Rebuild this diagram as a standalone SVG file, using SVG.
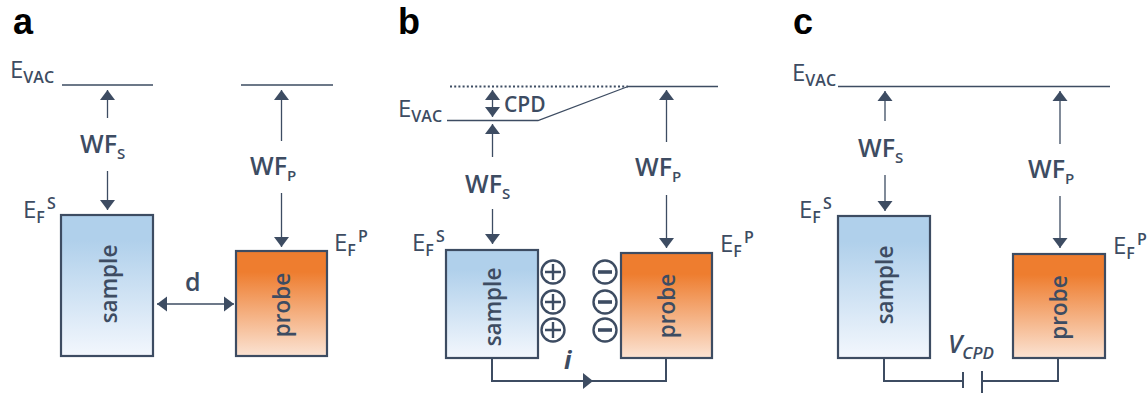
<svg xmlns="http://www.w3.org/2000/svg" width="1148" height="397" viewBox="0 0 1148 397">
<style>
text{font-family:"Open Sans","Noto Sans","DejaVu Sans",sans-serif;fill:#3d4c62}
.h{font-family:"Liberation Sans",Arial,sans-serif;font-size:36px;font-weight:700;fill:#000}
.e{font-size:24px;font-weight:500}
.es{font-size:16px;font-weight:600}
.w{font-size:25px;font-weight:600}
.ws{font-size:15px;font-weight:600}
.n{font-size:22.500px;font-weight:600;text-anchor:middle}
.box{stroke:#3d4c62;stroke-width:2.200}
.l{stroke:#3d4c62;stroke-width:1.300;fill:none}
.a{stroke:#3d4c62;stroke-width:1.300;fill:none;marker-end:url(#ah)}
.w2{stroke:#3d4c62;stroke-width:2;fill:none}
.c{fill:none;stroke:#3d4c62;stroke-width:2.400}
.m{fill:none;stroke:#3d4c62;stroke-width:3.600}
</style>
<defs>
<marker id="ah" markerUnits="userSpaceOnUse" markerWidth="12" markerHeight="16" refX="10" refY="8" orient="auto"><path d="M0 0.500L10 8L0 15.500Z" fill="#3d4c62"/></marker>
<marker id="as" markerUnits="userSpaceOnUse" markerWidth="12" markerHeight="16" refX="0" refY="8" orient="auto"><path d="M10 0.500L0 8L10 15.500Z" fill="#3d4c62"/></marker>
<linearGradient id="gs" x1="0" y1="0" x2="0" y2="1"><stop offset="0.18" stop-color="#b0d0eb"/><stop offset="1" stop-color="#f3f7fd"/></linearGradient>
<linearGradient id="gp" x1="0" y1="0" x2="0" y2="1"><stop offset="0.2" stop-color="#ee7d2f"/><stop offset="1" stop-color="#fbe3d3"/></linearGradient>
</defs>

<g id="panel-labels">
<text class="h" x="13" y="34">a</text>
<text class="h" x="398" y="34">b</text>
<text class="h" x="793" y="34">c</text>
</g>

<g id="a-sample"><rect class="box" x="61" y="215" width="92" height="141" fill="url(#gs)"/><text class="n" transform="translate(116.500 284) rotate(-90)">sample</text></g>
<g id="a-probe"><rect class="box" x="236" y="251" width="91" height="105" fill="url(#gp)"/><text class="n" transform="translate(290 305) rotate(-90)">probe</text></g>
<g id="a-labels">
<text class="e" x="10" y="78">E<tspan class="es" dy="5">VAC</tspan></text>
<text class="w" x="80" y="153">WF<tspan class="ws" dy="6">S</tspan></text>
<text class="w" x="250" y="175">WF<tspan class="ws" dy="6">P</tspan></text>
<text class="e" x="23" y="218">E<tspan class="es" dy="5">F</tspan><tspan class="es" dy="-14" dx="2">S</tspan></text>
<text class="e" x="334" y="251">E<tspan class="es" dy="5">F</tspan><tspan class="es" dy="-14" dx="2">P</tspan></text>
<text class="w" x="185" y="291">d</text>
</g>

<g id="b-sample"><rect class="box" x="446" y="250" width="92" height="108" fill="url(#gs)"/><text class="n" transform="translate(501 307) rotate(-90)">sample</text></g>
<g id="b-probe"><rect class="box" x="621" y="253" width="91" height="105" fill="url(#gp)"/><text class="n" transform="translate(675 306) rotate(-90)">probe</text></g>
<g id="b-charges">
<circle class="c" cx="553" cy="272" r="11.500"/><path class="c" d="M545 272h16M553 264v16"/>
<circle class="c" cx="553" cy="302" r="11.500"/><path class="c" d="M545 302h16M553 294v16"/>
<circle class="c" cx="553" cy="330" r="11.500"/><path class="c" d="M545 330h16M553 322v16"/>
<circle class="c" cx="605" cy="272" r="11.500"/><path class="m" d="M598 272h14"/>
<circle class="c" cx="605" cy="302" r="11.500"/><path class="m" d="M598 302h14"/>
<circle class="c" cx="605" cy="330" r="11.500"/><path class="m" d="M598 330h14"/>
</g>
<g id="b-labels">
<text class="e" x="398" y="117">E<tspan class="es" dy="5">VAC</tspan></text>
<text class="w" x="504" y="112" style="font-size:21px">CPD</text>
<text class="w" x="465" y="193">WF<tspan class="ws" dy="6">S</tspan></text>
<text class="w" x="635" y="176">WF<tspan class="ws" dy="6">P</tspan></text>
<text class="e" x="412" y="251">E<tspan class="es" dy="5">F</tspan><tspan class="es" dy="-14" dx="2">S</tspan></text>
<text class="e" x="720" y="252">E<tspan class="es" dy="5">F</tspan><tspan class="es" dy="-14" dx="2">P</tspan></text>
<text class="w" x="564" y="369" font-style="italic" style="font-weight:700">i</text>
</g>

<g id="c-sample"><rect class="box" x="838" y="216" width="92" height="142" fill="url(#gs)"/><text class="n" transform="translate(893 285) rotate(-90)">sample</text></g>
<g id="c-probe"><rect class="box" x="1013" y="254" width="92" height="104" fill="url(#gp)"/><text class="n" transform="translate(1067 307.500) rotate(-90)">probe</text></g>
<g id="c-labels">
<text class="e" x="792" y="81">E<tspan class="es" dy="5">VAC</tspan></text>
<text class="w" x="858" y="157">WF<tspan class="ws" dy="6">S</tspan></text>
<text class="w" x="1028" y="178">WF<tspan class="ws" dy="6">P</tspan></text>
<text class="e" x="799" y="218">E<tspan class="es" dy="5">F</tspan><tspan class="es" dy="-14" dx="2">S</tspan></text>
<text class="e" x="1113" y="254">E<tspan class="es" dy="5">F</tspan><tspan class="es" dy="-14" dx="2">P</tspan></text>
<text x="948" y="353" font-style="italic" style="font-size:25px;font-weight:600">V<tspan dy="6" style="font-size:17px">CPD</tspan></text>
</g>

<g id="connectors">
<path class="l" d="M62 85H153M241 85H333"/>
<path class="a" d="M107.500 118V90"/>
<path class="a" d="M107.500 171V210"/>
<path class="a" d="M281.500 141V90"/>
<path class="a" d="M281.500 193V247"/>
<path class="a" d="M157 304H234" style="marker-start:url(#as)"/>

<path class="l" stroke-dasharray="2 2.200" d="M450 86.500H628" style="stroke-width:2"/>
<path class="l" d="M628 86.500H718M447 120.500H538L628 86.500"/>
<path class="a" d="M492.500 103V90"/>
<path class="a" d="M492.500 103V117"/>
<path class="a" d="M492.500 157V124"/>
<path class="a" d="M492.500 209V244"/>
<path class="a" d="M666.500 142V90"/>
<path class="a" d="M666.500 195V248"/>
<path class="w2" d="M492 358V381H666V358"/>
<path d="M583 373L593 381L583 389Z" fill="#3d4c62"/>

<path class="l" d="M838 86.500H1110"/>
<path class="a" d="M885 121V91"/>
<path class="a" d="M885 175V211"/>
<path class="a" d="M1060 144V91"/>
<path class="a" d="M1060 196V248"/>
<path class="w2" d="M884 358V381H963M963 372V388M982 371V393M982 381H1058V358"/>
</g>
</svg>
